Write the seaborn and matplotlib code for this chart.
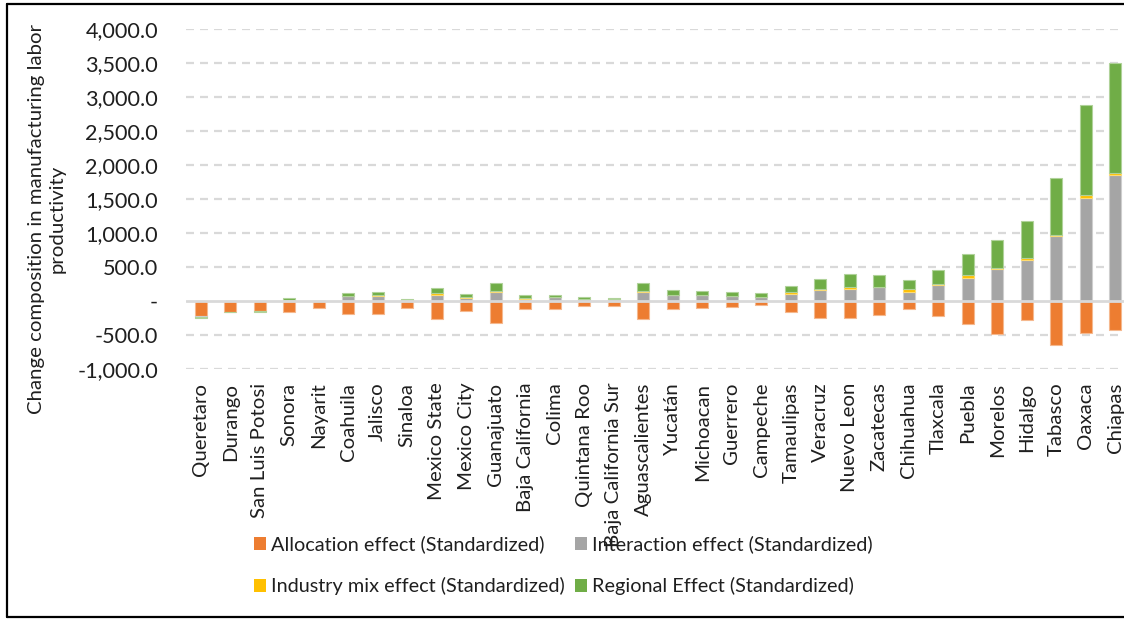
import numpy as np
import pandas as pd
import seaborn as sns
import matplotlib
matplotlib.use("Agg")
import matplotlib.pyplot as plt
from matplotlib.patches import Patch
from matplotlib.lines import Line2D
from matplotlib.ticker import FuncFormatter, MultipleLocator

# Shift-share decomposition of manufacturing labor productivity by state
states = ["Queretaro", "Durango", "San Luis Potosi", "Sonora", "Nayarit", "Coahuila",
          "Jalisco", "Sinaloa", "Mexico State", "Mexico City", "Guanajuato",
          "Baja California", "Colima", "Quintana Roo", "Baja California Sur",
          "Aguascalientes", "Yucatán", "Michoacan", "Guerrero", "Campeche",
          "Tamaulipas", "Veracruz", "Nuevo Leon", "Zacatecas", "Chihuahua",
          "Tlaxcala", "Puebla", "Morelos", "Hidalgo", "Tabasco", "Oaxaca", "Chiapas"]

allocation = [-225, -160, -150, -160, -113, -196, -196, -103, -265, -157, -323,
              -127, -118, -83, -73, -274, -122, -113, -88, -64, -167, -250, -250,
              -216, -127, -230, -338, -490, -289, -657, -475, -426]
interaction = [-20, 0, 0, 12, 0, 64, 69, 10, 88, 44, 125, 29, 49, 20, 20, 132,
               78, 78, 64, 54, 103, 162, 176, 196, 132, 235, 333, 470, 603, 955,
               1514, 1852]
industry_mix = [0, 0, -8, 0, 0, 0, 10, 0, 20, 10, 18, 15, 3, 0, 0, 8, 5, 0, 5, 0,
                20, 8, 25, 5, 39, 5, 39, 15, 29, 15, 39, 29]
regional = [-15, -12, -12, 22, 0, 54, 48, 20, 83, 39, 125, 39, 34, 29, 24, 128,
            69, 64, 54, 59, 97, 150, 187, 176, 133, 206, 314, 412, 539, 833, 1333,
            1618]

series_names = ["Allocation effect (Standardized)",
                "Interaction effect (Standardized)",
                "Industry mix effect (Standardized)",
                "Regional Effect (Standardized)"]
series_values = [allocation, interaction, industry_mix, regional]
series_colors = ["#ED7D31", "#A5A5A5", "#FFC000", "#70AD47"]

y_ticks = list(range(-1000, 4001, 500))

FONT = "Lato"
TEXT_COLOR = "#1f1f1f"
FS = 14.7
FS_Y = 15.6
FS_LEG = 14.3

sns.set_theme(style="white")
plt.rcParams["font.family"] = [FONT, "DejaVu Sans"]

W, H = 1124, 620
fig = plt.figure(figsize=(W / 100, H / 100), dpi=100)
fig.patch.set_facecolor("white")

ax_left, ax_right, ax_top, ax_bottom = 186, 1130, 29, 368.7
ax = fig.add_axes([ax_left / W, 1 - ax_bottom / H,
                   (ax_right - ax_left) / W, (ax_bottom - ax_top) / H])

df = pd.DataFrame({"state": states})
for name, vals in zip(series_names, series_values):
    df[name] = vals

def lighten(c, f=0.45):
    rgb = np.array(matplotlib.colors.to_rgb(c))
    return tuple(rgb + (1 - rgb) * f)

# stack positives upward and negatives downward, in series order
pos_base = np.zeros(len(states))
neg_base = np.zeros(len(states))
for name, color in zip(series_names, series_colors):
    vals = df[name].to_numpy(dtype=float)
    bottom = np.where(vals >= 0, pos_base, neg_base)
    sns.barplot(data=df, x="state", y=name, order=states, bottom=bottom,
                color=color, saturation=1, width=0.39, errorbar=None,
                edgecolor=lighten(color), linewidth=0.8, ax=ax, zorder=3)
    pos_base += np.where(vals >= 0, vals, 0)
    neg_base += np.where(vals < 0, vals, 0)

ax.set_xlim(-0.5, len(states) - 0.5)
ax.set_ylim(-1000, 4000)
ax.yaxis.set_major_locator(MultipleLocator(500))
ax.yaxis.set_major_formatter(FuncFormatter(lambda v, p: "-" if abs(v) < 1e-9 else f"{v:,.1f}"))

# horizontal gridlines: dashed, with a solid baseline at zero
for v in y_ticks:
    if v == 0:
        ax.axhline(v, color="#D9D9D9", lw=2.0, zorder=4)
    else:
        ax.axhline(v, color="#D9D9D9", lw=1.6, ls=(0, (3.6, 2.7)), zorder=1)

for s in ax.spines.values():
    s.set_visible(False)
ax.set_xlabel("")
ax.set_ylabel("")
ax.tick_params(axis="y", length=0, pad=20, labelsize=FS_Y, labelcolor=TEXT_COLOR)
ax.tick_params(axis="x", length=0, pad=10, labelsize=FS, labelcolor=TEXT_COLOR)
for lbl in ax.get_xticklabels():
    lbl.set_rotation(90)
    lbl.set_va("top")
    lbl.set_ha("center")

fig.text(47 / W, 1 - 219 / H,
         "Change composition in manufacturing labor\nproductivity",
         rotation=90, ha="center", va="center", multialignment="center",
         fontsize=FS, color=TEXT_COLOR, linespacing=1.3)

# two legend columns, each anchored at its own left edge
def legend_column(idx, x_px):
    handles = [Patch(facecolor=series_colors[i], edgecolor="none") for i in idx]
    labels = [series_names[i] for i in idx]
    fig.legend(handles, labels, loc="upper left",
               bbox_to_anchor=(x_px / W, 1 - 535.5 / H), frameon=False,
               fontsize=FS_LEG, labelcolor=TEXT_COLOR, handlelength=0.6,
               handleheight=0.6, handletextpad=0.25, labelspacing=1.2,
               borderaxespad=0, borderpad=0)

legend_column([0, 2], 254)
legend_column([1, 3], 575)

# outer frame (left, top, bottom edges)
frame_kw = dict(color="black", lw=1.6, transform=fig.transFigure)
fig.add_artist(Line2D([7 / W, 7 / W], [3 / H, 1 - 4 / H], **frame_kw))
fig.add_artist(Line2D([7 / W, 1], [1 - 4 / H, 1 - 4 / H], **frame_kw))
fig.add_artist(Line2D([7 / W, 1], [3 / H, 3 / H], **frame_kw))

fig.savefig("out.png", dpi=100, facecolor="white")
